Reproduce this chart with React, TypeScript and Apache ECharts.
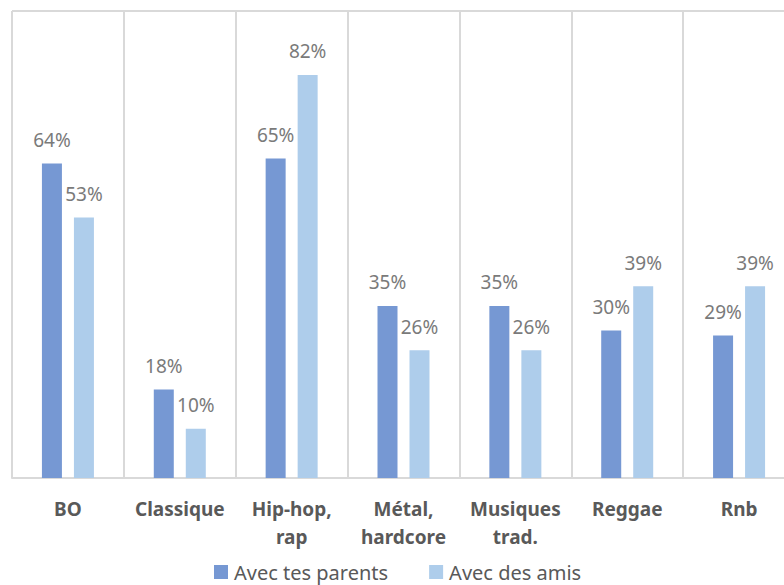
import React, { useEffect, useRef } from "react";
import * as echarts from "echarts";

const categories = ["BO", "Classique", "Hip-hop,\nrap", "Métal,\nhardcore", "Musiques\ntrad.", "Reggae", "Rnb"];
const parents = [64, 18, 65, 35, 35, 30, 29];
const amis = [53, 10, 82, 26, 26, 39, 39];
const seriesNames = ["Avec tes parents", "Avec des amis"];

export default function App() {
  const ref = useRef<HTMLDivElement>(null);
  useEffect(() => {
    const chart = echarts.init(ref.current!, null, { renderer: "svg" });
    const font = "'Noto Sans', sans-serif";
    const label = {
      show: true,
      position: "top",
      distance: 14,
      formatter: "{c}%",
      color: "#7a7a7a",
      fontSize: 19,
      fontFamily: font,
    };
    chart.setOption({
      animation: false,
      grid: { left: 12, top: 11, width: 783, height: 467, containLabel: false },
      legend: {
        data: seriesNames,
        top: 561,
        left: 214,
        padding: 0,
        itemWidth: 14,
        itemHeight: 14,
        itemGap: 41,
        icon: "rect",
        textStyle: { color: "#595959", fontSize: 20, fontFamily: font, padding: [0, 0, 0, 1], lineHeight: 22 },
      },
      xAxis: {
        type: "category",
        data: categories,
        axisTick: { show: false },
        axisLine: { show: true, lineStyle: { color: "#d9d9d9", width: 2 } },
        splitLine: { show: true, lineStyle: { color: "#d9d9d9", width: 2 } },
        axisLabel: {
          color: "#595959",
          fontSize: 19,
          fontWeight: "bold",
          fontFamily: font,
          lineHeight: 28,
          margin: 17,
          interval: 0,
        },
      },
      yAxis: {
        type: "value",
        min: 0,
        max: 95,
        show: true,
        axisLabel: { show: false },
        axisLine: { show: false },
        axisTick: { show: false },
        splitLine: { show: false },
      },
      graphic: [
        { type: "line", shape: { x1: 12, y1: 11, x2: 800, y2: 11 }, style: { stroke: "#d9d9d9", lineWidth: 2 } },
      ],
      series: [
        {
          name: seriesNames[0],
          type: "bar",
          data: parents,
          barWidth: 20,
          barGap: "60%",
          itemStyle: { color: "#7698d3" },
          label,
        },
        {
          name: seriesNames[1],
          type: "bar",
          data: amis,
          barWidth: 20,
          barGap: "60%",
          itemStyle: { color: "#aecdeb" },
          label,
        },
      ],
    });
    return () => chart.dispose();
  }, []);
  return (
    <div style={{ width: 784, height: 585, position: "absolute", left: 0, top: 0, overflow: "hidden" }}>
      <div ref={ref} style={{ width: 810, height: 585 }} />
    </div>
  );
}
